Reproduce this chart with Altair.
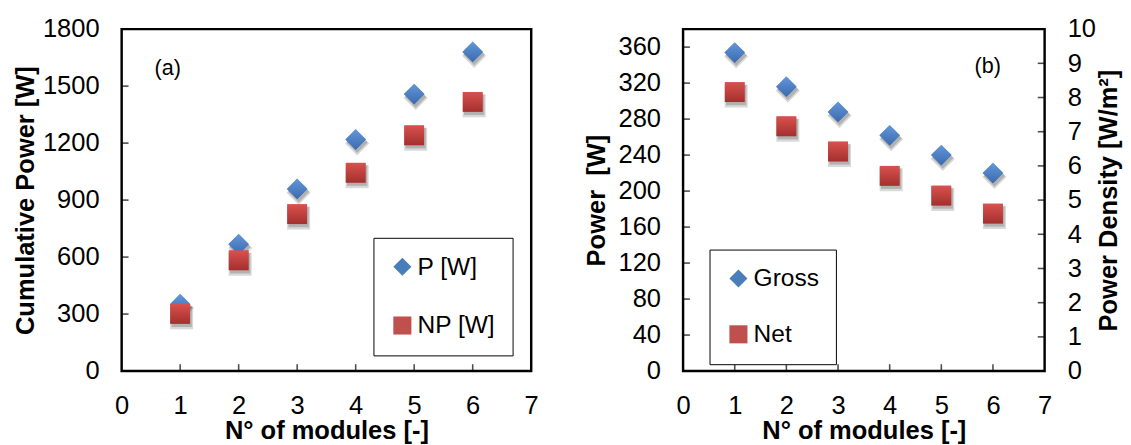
import altair as alt
import pandas as pd

# ---------------- data ----------------
modules = [1, 2, 3, 4, 5, 6]
p_cumulative = [352, 668, 959, 1219, 1458, 1680]      # P [W]
np_cumulative = [301, 583, 826, 1044, 1241, 1417]     # NP [W]
gross_power = [354, 316, 288, 262, 240, 220]          # Gross [W]
net_power = [310, 272, 244, 217, 195, 175]            # Net [W]

left_series = ["P [W]", "NP [W]"]
right_series = ["Gross", "Net"]

x_tick_values = [0, 1, 2, 3, 4, 5, 6, 7]
left_y_values = [0, 300, 600, 900, 1200, 1500, 1800]
right_y_values = [0, 40, 80, 120, 160, 200, 240, 280, 320, 360]
density_values = [0, 1, 2, 3, 4, 5, 6, 7, 8, 9, 10]

FONT = "Liberation Sans"
SHAPES = ["diamond", "square"]
COLORS = ["#4A7EBB", "#C0504D"]
GRADS = [("#6398DA", "#3A6AAE"), ("#D9514E", "#A3302E")]
SIZES = [450, 410]


def panel(df, series, y_domain, y_values, y_title, y_title_pad, leg_x, leg_y,
          row_pad, tag, tag_x, tag_y, width, height, extra_layer=None):
    x_scale = alt.Scale(domain=[0, 7], nice=False, zero=False)
    y_scale = alt.Scale(domain=y_domain, nice=False, zero=False)
    x_axis = alt.Axis(values=x_tick_values, format="d", title="N° of modules [-]",
                      labelFlush=False, labelOverlap=False, labelPadding=22,
                      titlePadding=0)
    y_axis = alt.Axis(values=y_values, format="d", title=y_title,
                      labelFlush=False, labelOverlap=False, labelPadding=23,
                      titlePadding=y_title_pad)
    legend = alt.Legend(title=None, orient="none", legendX=leg_x, legendY=leg_y,
                        strokeColor="black", fillColor="white",
                        padding=17, rowPadding=row_pad, symbolSize=340,
                        symbolStrokeWidth=0, labelFontSize=25, labelFont=FONT,
                        labelColor="black", labelOffset=3, direction="vertical")
    x = alt.X("module:Q", scale=x_scale, axis=x_axis)
    y = alt.Y("power:Q", scale=y_scale, axis=y_axis)
    base = alt.Chart(df)

    layers = []
    # drop shadows (two soft layers)
    for s, shp, sz in zip(series, SHAPES, SIZES):
        for dy, op, grow in [(4.0, 0.15, 1.35), (3.0, 0.18, 1.05)]:
            layers.append(
                base.transform_filter(alt.datum.series == s)
                .mark_point(shape=shp, filled=True, size=sz * grow, color="#000000",
                            opacity=op, xOffset=1.5, yOffset=dy)
                .encode(x=x, y=y)
            )
    # main markers (drive the legend)
    layers.append(
        base.mark_point(filled=True, size=400, opacity=1).encode(
            x=x, y=y,
            color=alt.Color("series:N", scale=alt.Scale(domain=series, range=COLORS),
                            legend=legend),
            shape=alt.Shape("series:N", scale=alt.Scale(domain=series, range=SHAPES),
                            legend=legend),
        )
    )
    # gradient overlays
    for s, shp, sz, (top, bot) in zip(series, SHAPES, SIZES, GRADS):
        grad = alt.LinearGradient(
            gradient="linear", x1=0, y1=0, x2=0, y2=1,
            stops=[alt.GradientStop(color=top, offset=0),
                   alt.GradientStop(color=bot, offset=1)])
        layers.append(
            base.transform_filter(alt.datum.series == s)
            .mark_point(shape=shp, filled=True, size=sz, fill=grad, opacity=1,
                        strokeWidth=0)
            .encode(x=x, y=y)
        )
    # inner ticks on the bottom axis
    inner_x = pd.DataFrame({"t": x_tick_values[1:-1]})
    layers.append(
        alt.Chart(inner_x).mark_tick(orient="vertical", size=7, thickness=1.6,
                                     color="black", yOffset=-3.5)
        .encode(x=alt.X("t:Q", scale=x_scale, axis=x_axis),
                y=alt.YDatum(y_domain[0], scale=y_scale, axis=y_axis))
    )
    # inner ticks on the left axis
    inner_y = pd.DataFrame({"t": [v for v in y_values if y_domain[0] < v < y_domain[1]]})
    layers.append(
        alt.Chart(inner_y).mark_tick(orient="horizontal", size=7, thickness=1.6,
                                     color="black", xOffset=3.5)
        .encode(x=alt.XDatum(0, scale=x_scale, axis=x_axis),
                y=alt.Y("t:Q", scale=y_scale, axis=y_axis))
    )
    # panel tag
    layers.append(
        alt.Chart(pd.DataFrame({"label": [tag]}))
        .mark_text(fontSize=22, font=FONT, color="black")
        .encode(text="label:N", x=alt.value(tag_x), y=alt.value(tag_y))
    )
    inner = alt.layer(*layers).properties(width=width, height=height)
    if extra_layer is not None:
        inner = alt.layer(inner, extra_layer(x_scale)).resolve_scale(y="independent")
    return inner


left_df = pd.DataFrame({
    "module": modules * 2,
    "power": p_cumulative + np_cumulative,
    "series": [left_series[0]] * len(modules) + [left_series[1]] * len(modules),
})
right_df = pd.DataFrame({
    "module": modules * 2,
    "power": gross_power + net_power,
    "series": [right_series[0]] * len(modules) + [right_series[1]] * len(modules),
})


def density_layer(x_scale):
    d_axis = alt.Axis(orient="right", values=density_values, format="d",
                      title="Power Density [W/m²]", titleAngle=270,
                      titleBaseline="top", labelPadding=23, titlePadding=0,
                      labelFlush=False, labelOverlap=False)
    d_df = pd.DataFrame({"d": density_values[1:-1]})
    return (
        alt.Chart(d_df).mark_tick(orient="horizontal", size=7, thickness=1.6,
                                  color="black", xOffset=-3.5)
        .encode(x=alt.XDatum(7, scale=x_scale),
                y=alt.Y("d:Q", scale=alt.Scale(domain=[0, 10], nice=False, zero=False),
                        axis=d_axis))
    )


left = panel(left_df, left_series, [0, 1800], left_y_values, "Cumulative Power [W]", 4,
             257, 213, 34, "(a)", 47, 40, 418, 349)
right = panel(right_df, right_series, [0, 380], right_y_values, "Power \u00a0[W]", 9,
              27, 225, 31, "(b)", 311, 38, 369, 349, extra_layer=density_layer)

chart = (
    alt.hconcat(left, right, spacing=43)
    .resolve_scale(x="independent", y="independent", color="independent",
                   shape="independent")
    .configure(font=FONT, padding={"left": 3, "top": 2, "right": 0, "bottom": 0})
    .configure_view(stroke="black", strokeWidth=2.5)
    .configure_axis(labelFont=FONT, labelFontSize=26, labelColor="black",
                    titleFont=FONT, titleFontSize=26, titleFontWeight="bold",
                    titleColor="black", grid=False, domain=False, ticks=False)
)

chart.save("out.html", embed_options={"renderer": "svg", "actions": False})
